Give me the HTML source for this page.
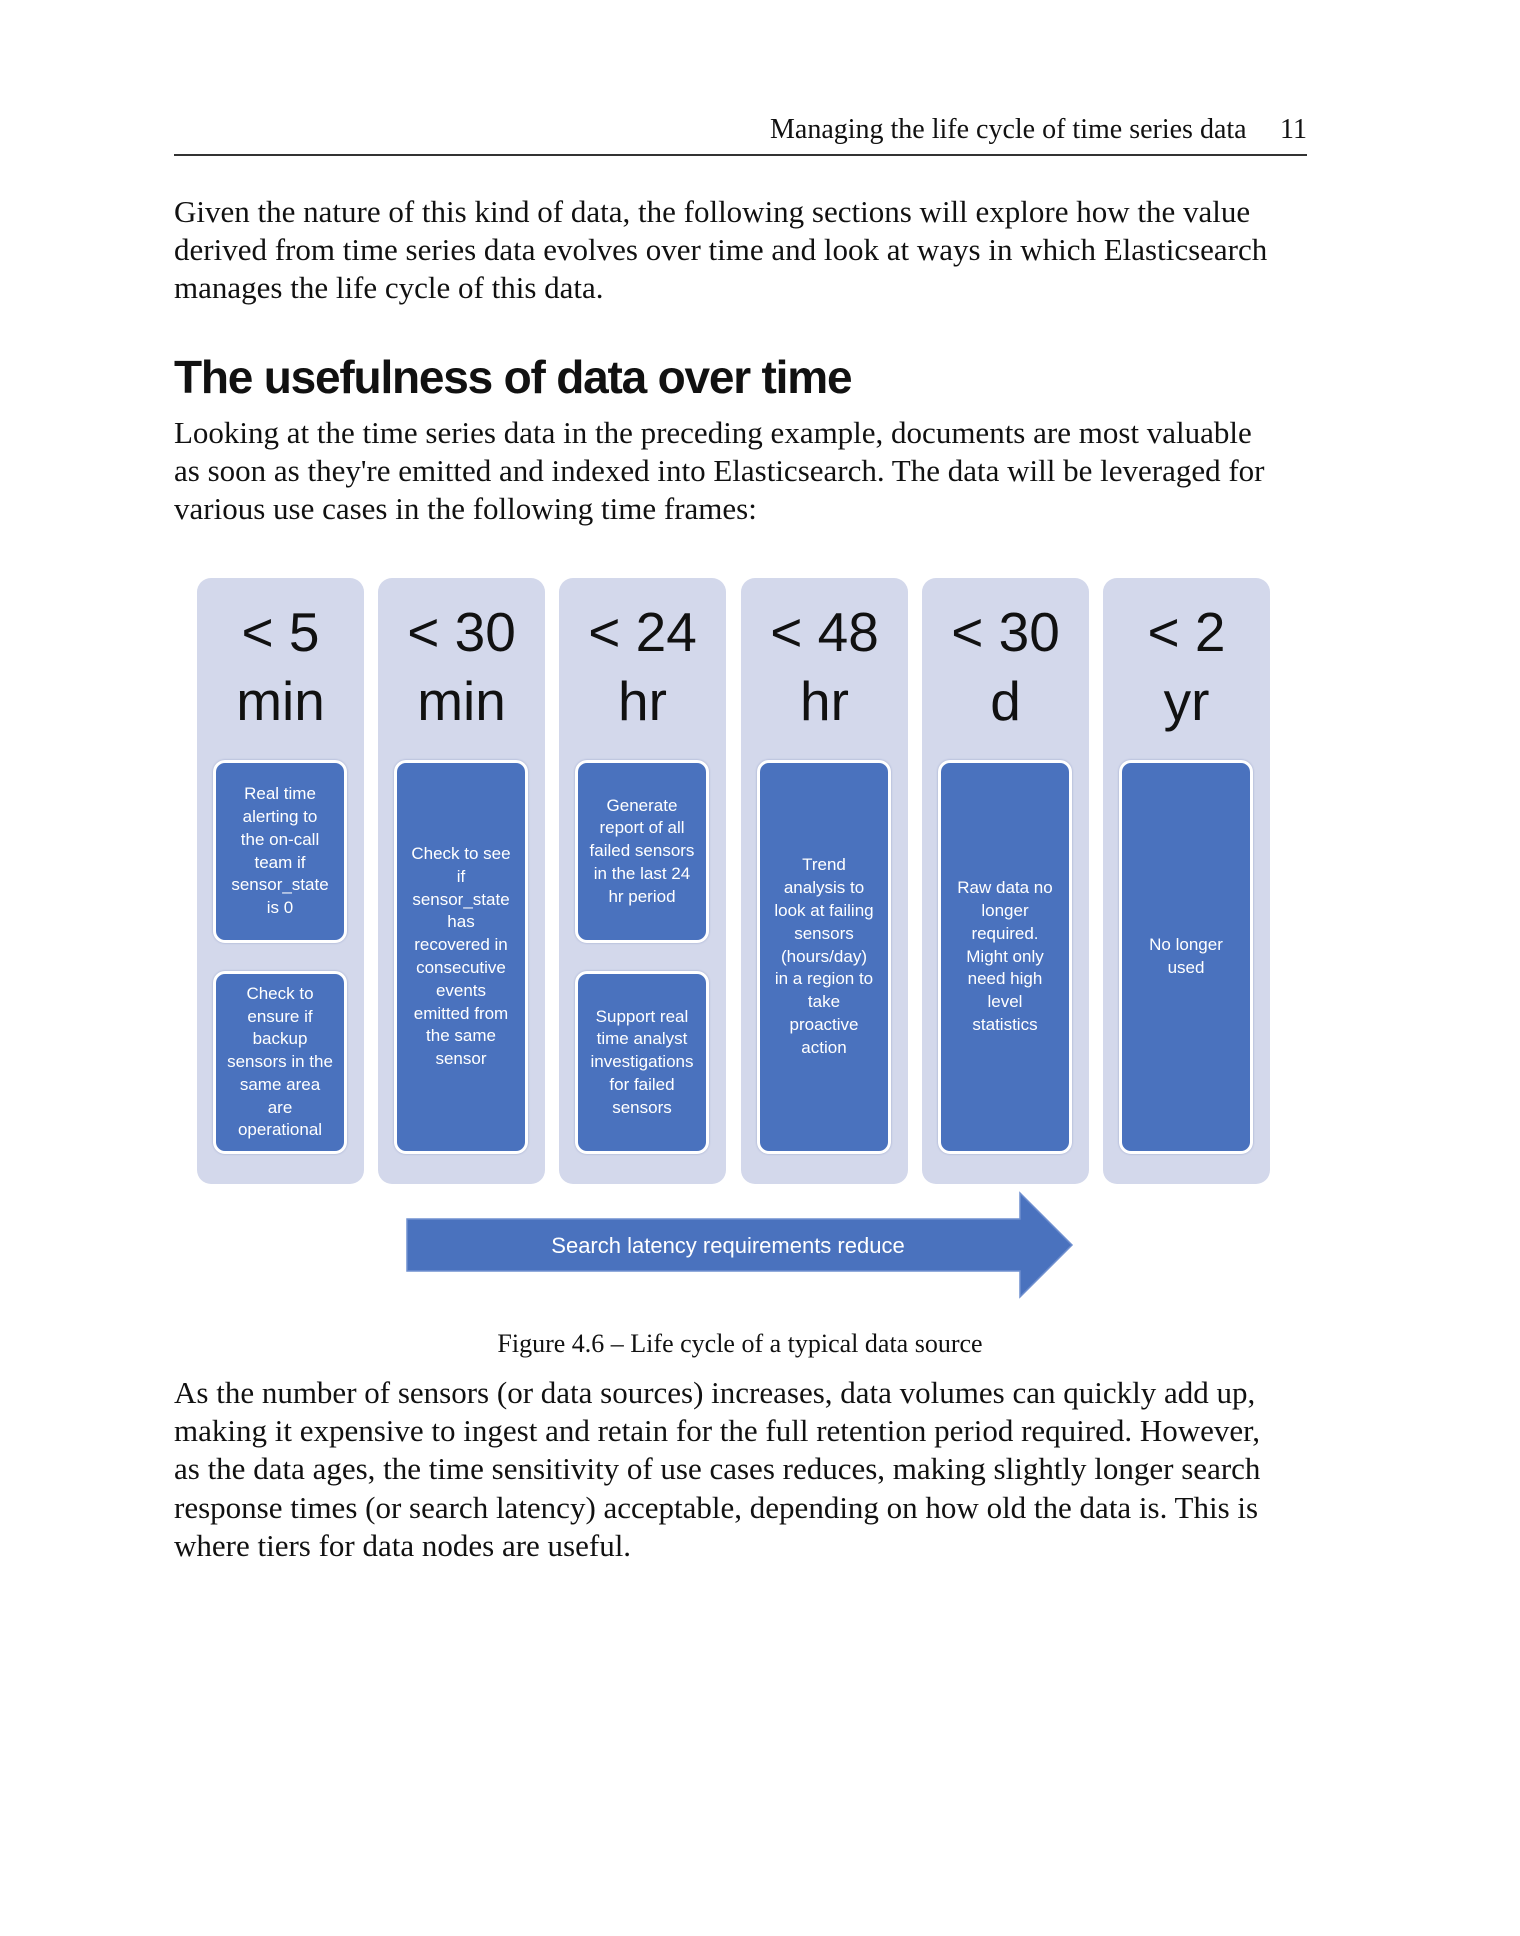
<!DOCTYPE html>
<html><head><meta charset="utf-8"><style>
*{margin:0;padding:0;box-sizing:border-box}
body{width:1520px;height:1936px;background:#fff;position:relative;overflow:hidden;font-family:"Liberation Serif",serif;color:#111}
.t{position:absolute;white-space:nowrap;font-size:31px;line-height:38.2px;left:174px}
.col{position:absolute;top:578px;width:167px;height:606px;background:#d3d8eb;border-radius:14px}
.hd{position:absolute;top:20px;left:0;width:100%;text-align:center;font-family:"Liberation Sans",sans-serif;font-size:55px;line-height:69px;color:#111}
.bx{position:absolute;left:16px;width:134px;background:#4a72be;border:3px solid #fff;border-radius:12px;display:flex;align-items:center;justify-content:center;text-align:center;color:#fff;font-family:"Liberation Sans",sans-serif;font-size:17px;line-height:22.8px;white-space:nowrap;box-shadow:0 0 2px #9aa6cc}
</style></head><body>
<div class="t" style="top:111px;left:770px;font-size:28px">Managing the life cycle of time series data</div>
<div class="t" style="top:111px;left:1280px;font-size:28px">11</div>
<div style="position:absolute;left:174px;top:154px;width:1133px;height:2px;background:#333"></div>
<div class="t" style="top:193px">Given the nature of this kind of data, the following sections will explore how the value<br>derived from time series data evolves over time and look at ways in which Elasticsearch<br>manages the life cycle of this data.</div>
<div class="t" style="top:351px;font-family:'Liberation Sans',sans-serif;font-weight:bold;font-size:46px;line-height:52px;letter-spacing:-1.2px">The usefulness of data over time</div>
<div class="t" style="top:414px">Looking at the time series data in the preceding example, documents are most valuable<br>as soon as they're emitted and indexed into Elasticsearch. The data will be leveraged for<br>various use cases in the following time frames:</div>

<div class="col" style="left:197px"><div class="hd">&lt; 5<br>min</div>
<div class="bx" style="top:182px;height:183px">Real time<br>alerting to<br>the on-call<br>team if<br>sensor_state<br>is 0</div>
<div class="bx" style="top:393px;height:183px">Check to<br>ensure if<br>backup<br>sensors in the<br>same area<br>are<br>operational</div></div>
<div class="col" style="left:378px"><div class="hd">&lt; 30<br>min</div>
<div class="bx" style="top:182px;height:394px">Check to see<br>if<br>sensor_state<br>has<br>recovered in<br>consecutive<br>events<br>emitted from<br>the same<br>sensor</div></div>
<div class="col" style="left:559px"><div class="hd">&lt; 24<br>hr</div>
<div class="bx" style="top:182px;height:183px">Generate<br>report of all<br>failed sensors<br>in the last 24<br>hr period</div>
<div class="bx" style="top:393px;height:183px">Support real<br>time analyst<br>investigations<br>for failed<br>sensors</div></div>
<div class="col" style="left:741px"><div class="hd">&lt; 48<br>hr</div>
<div class="bx" style="top:182px;height:394px">Trend<br>analysis to<br>look at failing<br>sensors<br>(hours/day)<br>in a region to<br>take<br>proactive<br>action</div></div>
<div class="col" style="left:922px"><div class="hd">&lt; 30<br>d</div>
<div class="bx" style="top:182px;height:394px">Raw data no<br>longer<br>required.<br>Might only<br>need high<br>level<br>statistics</div></div>
<div class="col" style="left:1103px"><div class="hd">&lt; 2<br>yr</div>
<div class="bx" style="top:182px;height:394px">No longer<br>used</div></div>

<svg style="position:absolute;left:0;top:0" width="1520" height="1936">
<polygon points="407,1219 1020,1219 1020,1193 1072,1245 1020,1297 1020,1271 407,1271" fill="#4a72be" stroke="#6f8fcf" stroke-width="1.5"/>
<text x="728" y="1253" text-anchor="middle" fill="#fff" font-family="Liberation Sans, sans-serif" font-size="22">Search latency requirements reduce</text>
</svg>
<div class="t" style="top:1325px;left:0;width:1480px;text-align:center;font-size:26px">Figure 4.6 – Life cycle of a typical data source</div>
<div class="t" style="top:1374px">As the number of sensors (or data sources) increases, data volumes can quickly add up,<br>making it expensive to ingest and retain for the full retention period required. However,<br>as the data ages, the time sensitivity of use cases reduces, making slightly longer search<br>response times (or search latency) acceptable, depending on how old the data is. This is<br>where tiers for data nodes are useful.</div>
</body></html>
